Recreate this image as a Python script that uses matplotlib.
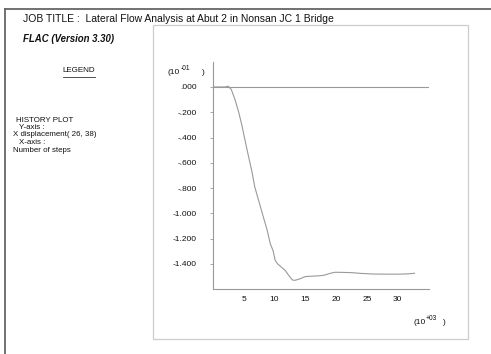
import matplotlib
matplotlib.use("Agg")
import matplotlib.pyplot as plt
from matplotlib.patches import Rectangle
from matplotlib.lines import Line2D

plt.rcParams['font.family'] = ['Liberation Sans', 'DejaVu Sans']

# Data (x in 10^3 steps, y in 10^-1 units)
steps_k = [0, 1, 2, 2.5, 3, 3.6, 4.2, 4.7, 5.5, 6.3, 6.8, 7.5, 8.2, 8.8, 9.3, 9.8,
           10.1, 10.5, 11.0, 11.7, 12.3, 12.9, 13.3, 14.0, 15.0, 16.0, 17.0, 18.0,
           19.0, 19.8, 21.0, 22.5, 24.0, 26.0, 28.0, 30.0, 31.5, 32.7]
disp = [0, 0, 0, 0.006, -0.02, -0.10, -0.20, -0.30, -0.485, -0.66, -0.79, -0.91,
        -1.03, -1.13, -1.237, -1.30, -1.37, -1.40, -1.42, -1.45, -1.49, -1.527,
        -1.53, -1.52, -1.50, -1.497, -1.495, -1.49, -1.475, -1.466, -1.467, -1.469,
        -1.475, -1.48, -1.481, -1.481, -1.479, -1.474]
ytick_vals = [0.0, -0.2, -0.4, -0.6, -0.8, -1.0, -1.2, -1.4]
ytick_labels = [".000", "-.200", "-.400", "-.600", "-.800", "-1.000", "-1.200", "-1.400"]
xtick_vals = [5, 10, 15, 20, 25, 30]
xtick_labels = ["5", "10", "15", "20", "25", "30"]

W, H = 491, 354
fig = plt.figure(figsize=(W / 100, H / 100), dpi=100)

def fx(px):
    return px / W

def fy(py):
    return 1 - py / H

# Outer frame lines (top and left)
fig.add_artist(Line2D([fx(4.5), fx(491)], [fy(8.7), fy(8.7)], color='#666666', lw=1.3))
fig.add_artist(Line2D([fx(4.5), fx(4.5)], [fy(8.7), fy(354)], color='#666666', lw=1.3))
# Inner panel box
fig.add_artist(Rectangle((fx(153.3), fy(339)), fx(468) - fx(153.3), fy(24.5) - fy(339),
                         fill=False, edgecolor='#cccccc', lw=0.9))

# Texts
fig.text(fx(23), fy(19), "JOB TITLE :  Lateral Flow Analysis at Abut 2 in Nonsan JC 1 Bridge",
         fontsize=7.5, va='center', ha='left', color='#111111')
fig.text(fx(23), fy(39), "FLAC (Version 3.30)", fontsize=6.9, fontweight='bold',
         fontstyle='italic', va='center', ha='left', color='#111111')
fig.text(fx(79), fy(70), "LEGEND", fontsize=5.8, va='center', ha='center', color='#111111')
fig.add_artist(Line2D([fx(63), fx(95)], [fy(76.5), fy(76.5)], color='#333333', lw=0.6))

legend_lines = [("HISTORY PLOT", 16, 120), ("Y-axis :", 19, 127.5),
                ("X displacement( 26, 38)", 13.3, 135), ("X-axis :", 19, 142.5),
                ("Number of steps", 13.3, 150)]
for t, x0, y0 in legend_lines:
    fig.text(fx(x0), fy(y0), t, fontsize=5.7, va='center', ha='left', color='#111111')

# Axes
ax = fig.add_axes([fx(212.8), fy(289.2), fx(428.7) - fx(212.8), fy(61.7) - fy(289.2)])
ax.set_xlim(0, 35)
ax.set_ylim(-1.6, 0.2)
ax.axhline(0, color='#999999', lw=0.8)
ax.plot(steps_k, disp, color='#999999', lw=0.8)
for s in ['top', 'right']:
    ax.spines[s].set_visible(False)
for s in ['left', 'bottom']:
    ax.spines[s].set_color('#999999')
    ax.spines[s].set_linewidth(0.8)
ax.set_yticks(ytick_vals)
ax.set_yticklabels(ytick_labels)
ax.set_xticks(xtick_vals)
ax.set_xticklabels(xtick_labels)
ax.tick_params(axis='y', direction='out', length=2.5, width=0.6, color='#999999',
               labelsize=6, pad=9, labelcolor='#111111')
ax.tick_params(axis='x', direction='out', length=0, labelsize=6, pad=5, labelcolor='#111111')

# Scale factor labels
def scale_label(x0, y0, exp, xclose):
    fig.text(fx(x0), fy(y0), "(10", fontsize=6, va='center', ha='left', color='#111111')
    fig.text(fx(x0 + 12.3), fy(y0 - 4), exp, fontsize=4.8, va='center', ha='left', color='#111111')
    fig.text(fx(xclose), fy(y0), ")", fontsize=6, va='center', ha='left', color='#111111')

scale_label(168, 72.5, "-01", 202)
scale_label(413, 322.5, "+03", 443)

fig.savefig("out.png", dpi=100)
